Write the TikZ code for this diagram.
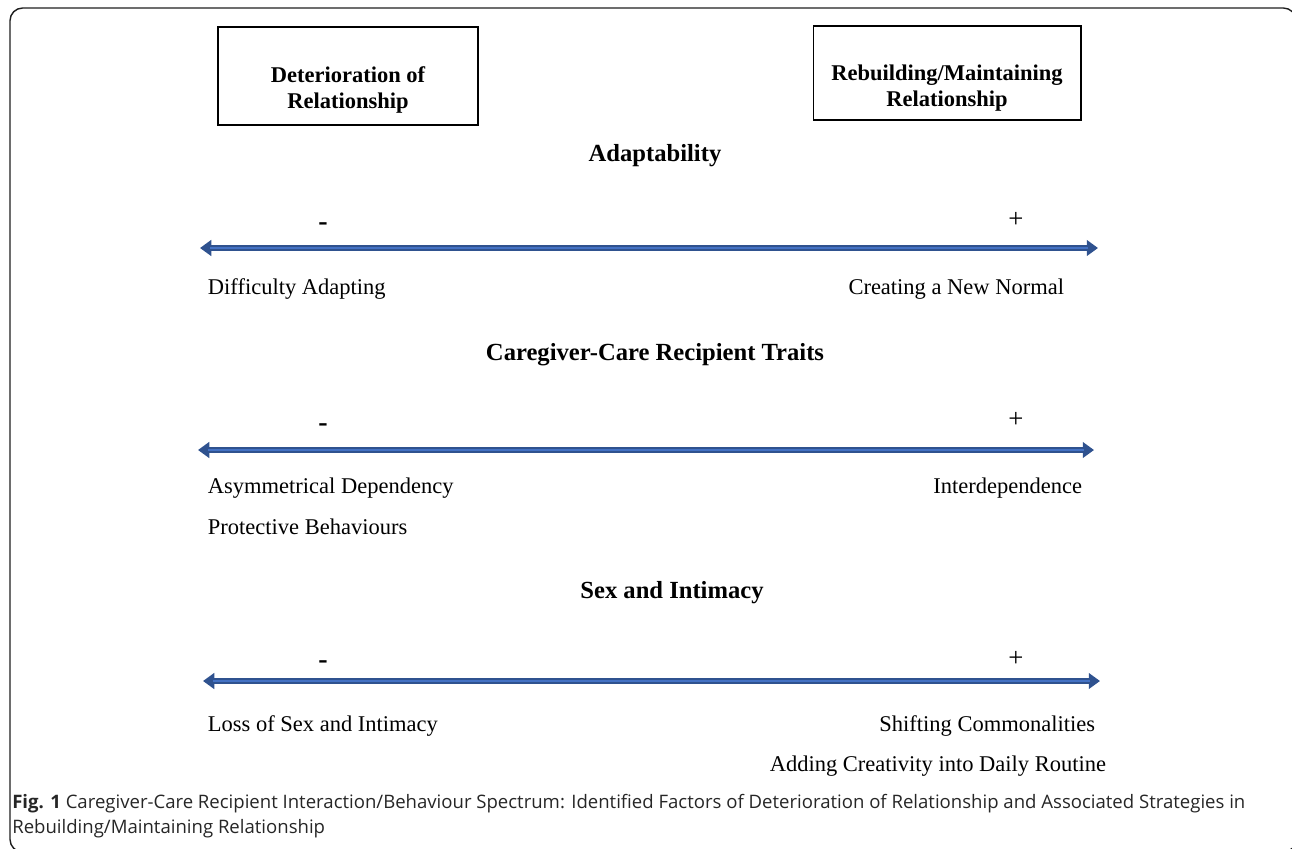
\documentclass[tikz,border=0pt]{standalone}
\usepackage{fontspec}
\setmainfont{Liberation Serif}
\newfontfamily\capfont{Open Sans}
\usepackage{xcolor}
\usetikzlibrary{arrows.meta}
\definecolor{specblue}{HTML}{4472C4}
\definecolor{specedge}{HTML}{2F528F}
\definecolor{framegray}{HTML}{1E1E1E}
\definecolor{captext}{HTML}{262626}

\begin{document}
\begin{tikzpicture}[
    x=0.025cm,y=-0.025cm,
    endbox/.style  = {draw,line width=1.4pt,minimum width=260*0.025cm,
                      minimum height=98*0.025cm},
    boxtext/.style = {align=center,font=\fontsize{16}{19}\selectfont\bfseries},
    head/.style    = {font=\fontsize{17.5}{20}\selectfont\bfseries},
    sign/.style    = {font=\fontsize{20}{22}\selectfont\bfseries},
    plus/.style    = {font=\fontsize{19}{22}\selectfont},
    item/.style    = {font=\fontsize{16}{19}\selectfont},
    captxt/.style  = {anchor=west,inner sep=0pt,text=captext,
                      font=\capfont\fontsize{13.2}{16}\selectfont},
    spec/.style    = {specedge,line width=3.6pt,
                      {Triangle[length=8pt,width=11pt]}-{Triangle[length=8pt,width=11pt]}},
    specmid/.style = {specblue,line width=1.6pt,shorten <=7pt,shorten >=7pt},
  ]
  \useasboundingbox (0,0) rectangle (1292,848);

  % Rahmen der Abbildung
  \draw[framegray,line width=1pt,rounded corners=9pt] (10,8) rectangle (1296,852);

  % Pole des Spektrums
  \node[endbox] (det) at (348,76) {};
  \node[boxtext] (dett) at (348,90) {Deterioration of\\Relationship};
  \node[endbox,minimum width=267*0.025cm,minimum height=94*0.025cm] (reb) at (947,73) {};
  \node[boxtext] (rebt) at (947,88) {Rebuilding/Maintaining\\Relationship};

  % Adaptability
  \node[head] (adapt) at (655,156) {Adaptability};
  \node[sign] (m1) at (323,227) {-};
  \node[plus] (p1) at (1016,220) {+};
  \coordinate (a1l) at (200,248);
  \coordinate (a1r) at (1098,248);
  \draw[spec] (a1l) -- (a1r);
  \draw[specmid] (a1l) -- (a1r);
  \node[item,anchor=west] (d1) at (203,289) {Difficulty Adapting};
  \node[item,anchor=east] (n1) at (1069,289) {Creating a New Normal};

  % Caregiver-Care Recipient Traits
  \node[head] (traits) at (655,355) {Caregiver-Care Recipient Traits};
  \node[sign] (m2) at (323,428) {-};
  \node[plus] (p2) at (1016,420) {+};
  \coordinate (a2l) at (198,450);
  \coordinate (a2r) at (1094,450);
  \draw[spec] (a2l) -- (a2r);
  \draw[specmid] (a2l) -- (a2r);
  \node[item,anchor=west] (d2) at (203,488) {Asymmetrical Dependency};
  \node[item,anchor=west] (d3) at (203,527) {Protective Behaviours};
  \node[item,anchor=east] (n2) at (1087,488) {Interdependence};

  % Sex and Intimacy
  \node[head] (sex) at (672,593) {Sex and Intimacy};
  \node[sign] (m3) at (323,665) {-};
  \node[plus] (p3) at (1016,659) {+};
  \coordinate (a3l) at (203,681);
  \coordinate (a3r) at (1100,681);
  \draw[spec] (a3l) -- (a3r);
  \draw[specmid] (a3l) -- (a3r);
  \node[item,anchor=west] (d4) at (203,726) {Loss of Sex and Intimacy};
  \node[item,anchor=east] (n3) at (1100,726) {Shifting Commonalities};
  \node[item,anchor=east] (n4) at (1111,766) {Adding Creativity into Daily Routine};

  % Bildunterschrift
  \node[captxt] (cap1) at (12,804)
       {\textbf{Fig. 1} Caregiver-Care Recipient Interaction/Behaviour Spectrum: Identified Factors of Deterioration of Relationship and Associated Strategies in};
  \node[captxt] (cap2) at (12,829) {Rebuilding/Maintaining Relationship};

\end{tikzpicture}
\end{document}
